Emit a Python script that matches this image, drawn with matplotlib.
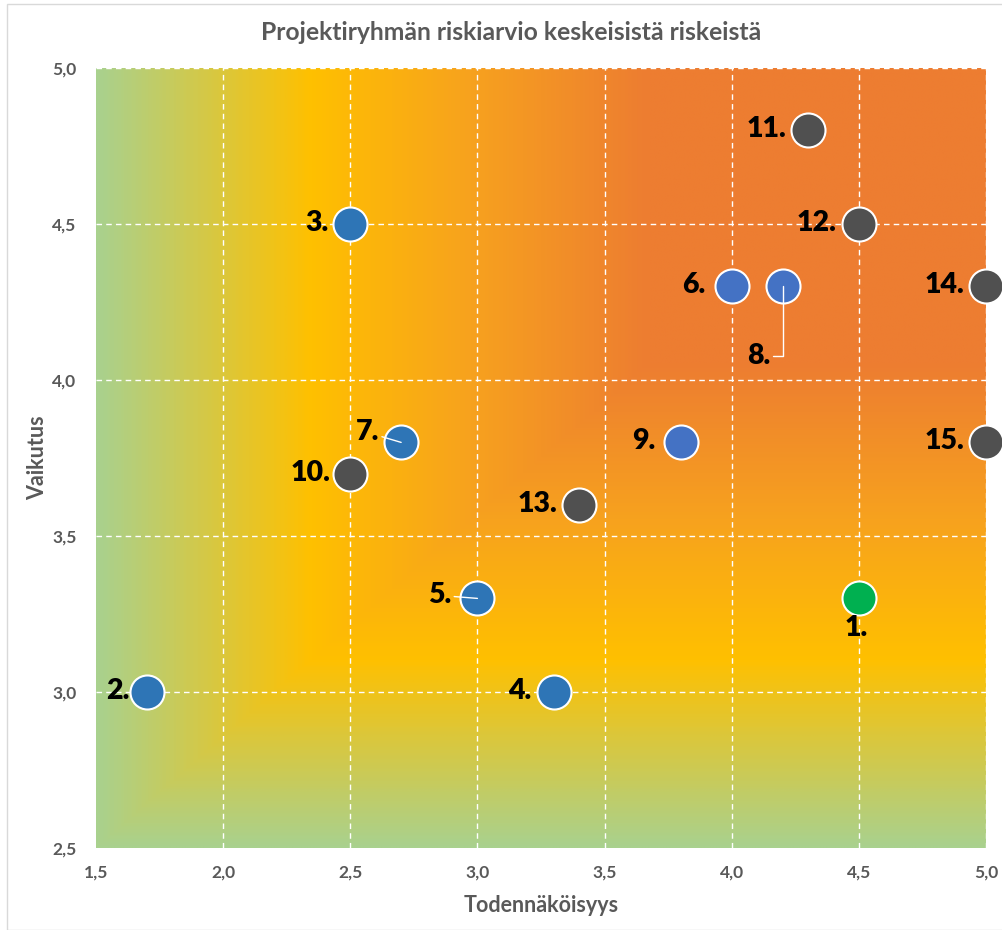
"""
Risk matrix scatter: Projektiryhmän riskiarvio keskeisistä riskeistä
"""

import matplotlib
matplotlib.use('Agg')
import matplotlib.pyplot as plt
from matplotlib.colors import LinearSegmentedColormap
from matplotlib.patches import Rectangle
import numpy as np

plt.rcParams['font.family'] = ['Lato', 'DejaVu Sans']

# data
labels = ['1.', '2.', '3.', '4.', '5.', '6.', '7.', '8.', '9.', '10.',
          '11.', '12.', '13.', '14.', '15.']
probability = [4.5, 1.7, 2.5, 3.3, 3.0, 4.0, 2.7, 4.2, 3.8, 2.5,
               4.3, 4.5, 3.4, 5.0, 5.0]
impact = [3.3, 3.0, 4.5, 3.0, 3.3, 4.3, 3.8, 4.3, 3.8, 3.7,
          4.8, 4.5, 3.6, 4.3, 3.8]
groups = ['green', 'blue', 'blue', 'blue', 'blue', 'lblue', 'blue', 'lblue',
          'lblue', 'gray', 'gray', 'gray', 'gray', 'gray', 'gray']

x_ticks = [1.5, 2.0, 2.5, 3.0, 3.5, 4.0, 4.5, 5.0]
y_ticks = [2.5, 3.0, 3.5, 4.0, 4.5, 5.0]

COLORS = {'green': '#00B050', 'blue': '#2E75B6',
          'lblue': '#4472C4', 'gray': '#505050'}
GREY = '#595959'

# label placement (offset pixels, alignment, leader line)
DEFAULT = ((-22, 1), 'right', 'center', None)
SPECIAL = {
    '1.': ((-3, -17), 'center', 'top', None),
    '2.': ((-17, 1), 'right', 'center', None),
    '5.': ((-26, 3), 'right', 'center', 'arc3'),
    '6.': ((-26, 1), 'right', 'center', None),
    '7.': ((-22, 10), 'right', 'center', 'arc3'),
    '8.': ((-12, -70), 'right', 'center', 'angle,angleA=0,angleB=90,rad=0'),
    '9.': ((-25, 1), 'right', 'center', None),
    '10.': ((-20, 1), 'right', 'center', None),
}

fig = plt.figure(figsize=(10.03, 9.30), dpi=100)
ax = fig.add_axes([96 / 1003, 1 - 848 / 930, 890 / 1003, 780 / 930])

# background gradient (rectangular path gradient from top-right corner)
gx, gy = np.meshgrid(np.linspace(1.5, 5.0, 700), np.linspace(2.5, 5.0, 500))
t = np.maximum((5.0 - gx) / 3.5, (5.0 - gy) / 2.5)
cmap = LinearSegmentedColormap.from_list(
    'risk', [(0.0, '#ED7D31'), (0.38, '#ED7D31'), (0.58, '#F7A21E'),
             (0.76, '#FFC000'), (1.0, '#A9D18E')])
ax.imshow(t, extent=[1.5, 5.0, 2.5, 5.0], origin='lower', aspect='auto',
          cmap=cmap, vmin=0, vmax=1, zorder=0, interpolation='bilinear')

ax.set_xlim(1.5, 5.0)
ax.set_ylim(2.5, 5.0)
ax.set_xticks(x_ticks)
ax.set_yticks(y_ticks)
ax.set_xticklabels([f'{v:.1f}'.replace('.', ',') for v in x_ticks])
ax.set_yticklabels([f'{v:.1f}'.replace('.', ',') for v in y_ticks])
ax.tick_params(length=0, labelsize=12.5, labelcolor=GREY)
ax.tick_params(axis='x', pad=12)
ax.tick_params(axis='y', pad=14)
for lab in ax.get_xticklabels() + ax.get_yticklabels():
    lab.set_fontweight('bold')
ax.spines[:].set_visible(False)
ax.grid(True, color='white', linestyle=(0, (4, 3)), linewidth=1, zorder=1)
# no dashed line along the left and bottom edges
ax.xaxis.get_gridlines()[0].set_visible(False)
ax.yaxis.get_gridlines()[0].set_visible(False)

# points
for x, y, g in zip(probability, impact, groups):
    ax.scatter(x, y, s=600, color=COLORS[g], edgecolor='white',
               linewidth=1.5, zorder=3, clip_on=False)

# labels
for lab, x, y in zip(labels, probability, impact):
    off, ha, va, conn = SPECIAL.get(lab, DEFAULT)
    arrow = None
    if conn:
        arrow = dict(arrowstyle='-', color='white', lw=1,
                     shrinkA=0, shrinkB=0, connectionstyle=conn)
    ax.annotate(lab, (x, y), xytext=off, textcoords='offset pixels',
                ha=ha, va=va, fontsize=20.5, fontweight='heavy', color='black',
                arrowprops=arrow, zorder=4, annotation_clip=False)

ax.set_xlabel('Todennäköisyys', fontsize=15.5, fontweight='bold',
              color=GREY, labelpad=10)
ax.set_ylabel('Vaikutus', fontsize=15.5, fontweight='bold', color=GREY)
ax.yaxis.set_label_coords(-48 / 890, 0.5)
fig.text(0.51, 1 - 32 / 930, 'Projektiryhmän riskiarvio keskeisistä riskeistä',
         ha='center', va='center', fontsize=17.8, fontweight='bold', color=GREY)

# chart border
fig.patches.append(Rectangle((7 / 1003, 0.0), 1.0, 1 - 4 / 930,
                             transform=fig.transFigure, fill=False,
                             edgecolor='#D9D9D9', linewidth=1))

fig.savefig('out.png', dpi=100)
